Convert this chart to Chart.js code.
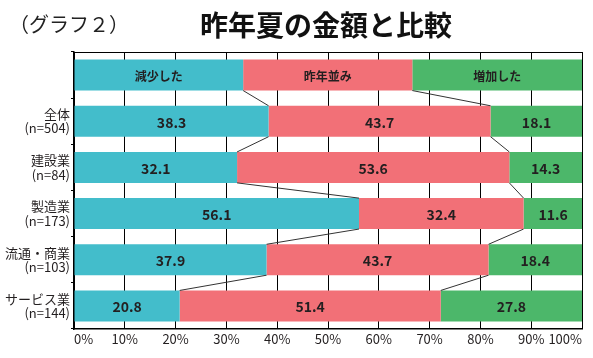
<!DOCTYPE html>
<html>
<head>
<meta charset="utf-8">
<script src="https://cdn.jsdelivr.net/npm/chart.js@4/dist/chart.umd.min.js"></script>
<style>
  html, body { margin: 0; padding: 0; background: #fff; }
  #wrap { position: relative; width: 593px; height: 358px; }
  #sub { position: absolute; left: 9px; top: 9px; font: 20px "Noto Sans CJK JP"; color: #222; }
  #title { position: absolute; left: 0; width: 652px; top: 4px; text-align: center; font: bold 28px "Noto Sans CJK JP"; color: #111; }
  canvas { position: absolute; left: 0; top: 0; }
</style>
</head>
<body>
<div id="wrap">
  <canvas id="chart" width="593" height="358"></canvas>
  <div id="sub">（グラフ２）</div>
  <div id="title">昨年夏の金額と比較</div>
</div>
<script>
// rows: first row is the header bar carrying the series names
const categories = ['', ['全体', '(n=504)'], ['建設業', '(n=84)'], ['製造業', '(n=173)'], ['流通・商業', '(n=103)'], ['サービス業', '(n=144)']];
const seriesNames = ['減少した', '昨年並み', '増加した'];
const decreased = [33.3, 38.3, 32.1, 56.1, 37.9, 20.8];
const same = [33.3, 43.7, 53.6, 32.4, 43.7, 51.4];
const increased = [33.4, 18.1, 14.3, 11.6, 18.4, 27.8];
const xTicks = [0, 10, 20, 30, 40, 50, 60, 70, 80, 90, 100];

const colors = ['#43bdcb', '#f27077', '#4cb76a'];
const textColor = '#231f20';
const fontFamily = '"Noto Sans CJK JP", "Noto Sans", sans-serif';

// value labels + connector lines between rows + top frame line
const barDecor = {
  id: 'barDecor',
  afterDatasetsDraw(chart) {
    const ctx = chart.ctx;
    const area = chart.chartArea;
    const metas = chart.data.datasets.map((d, i) => chart.getDatasetMeta(i));

    ctx.save();
    // connectors
    ctx.strokeStyle = '#333';
    ctx.lineWidth = 1;
    for (let k = 0; k < 2; k++) {
      const els = metas[k].data;
      for (let i = 0; i < els.length - 1; i++) {
        const a = els[i], b = els[i + 1];
        ctx.beginPath();
        ctx.moveTo(a.x, a.y + a.height / 2);
        ctx.lineTo(b.x, b.y - b.height / 2);
        ctx.stroke();
      }
    }
    // top frame
    ctx.strokeStyle = '#000';
    ctx.beginPath();
    ctx.moveTo(area.left, area.top + 0.5);
    ctx.lineTo(area.right, area.top + 0.5);
    ctx.stroke();

    // labels
    ctx.fillStyle = textColor;
    ctx.textAlign = 'center';
    ctx.textBaseline = 'middle';
    metas.forEach((meta, k) => {
      const ds = chart.data.datasets[k];
      meta.data.forEach((el, i) => {
        const cx = (el.x + el.base) / 2;
        if (i === 0) {
          ctx.font = 'bold 12px ' + fontFamily;
          ctx.fillText(ds.label, cx, el.y + 1);
        } else {
          ctx.font = 'bold 14px ' + fontFamily;
          ctx.fillText(ds.data[i].toFixed(1), cx, el.y + 1);
        }
      });
    });
    ctx.restore();
  }
};

new Chart(document.getElementById('chart').getContext('2d'), {
  type: 'bar',
  data: {
    labels: categories,
    datasets: [decreased, same, increased].map((vals, k) => ({
      label: seriesNames[k],
      data: vals,
      backgroundColor: colors[k],
      borderWidth: 0,
      categoryPercentage: 1,
      barPercentage: 0.67
    }))
  },
  options: {
    indexAxis: 'y',
    responsive: false,
    animation: false,
    devicePixelRatio: 1,
    layout: { padding: { top: 52, right: 11, left: 0, bottom: 0 } },
    plugins: { legend: { display: false }, tooltip: { enabled: false } },
    scales: {
      x: {
        stacked: true,
        min: 0,
        max: 100,
        afterBuildTicks: s => { s.ticks = xTicks.map(v => ({ value: v })); },
        ticks: {
          callback: v => v + '%',
          color: textColor,
          font: { family: fontFamily, size: 13 },
          align: 'inner',
          maxRotation: 0,
          padding: 2
        },
        grid: { color: '#000', drawTicks: false, lineWidth: 1 },
        border: { color: '#000', width: 1.5 },
        afterFit: s => { s.height = 29; }
      },
      y: {
        stacked: true,
        ticks: {
          color: textColor,
          font: { family: fontFamily, size: 13, lineHeight: 1.1 },
          padding: 1
        },
        grid: { drawOnChartArea: false, color: '#000', tickLength: 3 },
        border: { color: '#000', width: 1.5 },
        afterFit: s => { s.width = 74; }
      }
    }
  },
  plugins: [barDecor]
});
</script>
</body>
</html>
